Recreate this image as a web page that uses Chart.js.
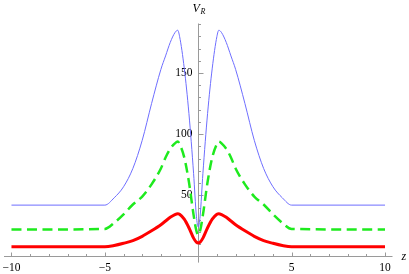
<!DOCTYPE html>
<html>
<head>
<meta charset="utf-8">
<style>
    body { margin: 0; background: #fff; }
    canvas { display: block; }
</style>
</head>
<body>
    <canvas id="chart" width="409" height="274"></canvas>

<script src="https://cdn.jsdelivr.net/npm/chart.js@4"></script>
<script>
    // values, z from -10 to 10
    const zValues = [-10, -5, -4.5, -4, -3.5, -3, -2.5, -2, -1.75, -1.5, -1.25, -1.1, -1, -0.75, -0.5, -0.25, -0.1, 0,
                     0.1, 0.25, 0.5, 0.75, 1, 1.1, 1.25, 1.5, 1.75, 2, 2.5, 3, 3.5, 4, 4.5, 5, 10];
    const blueValues = [42, 42, 48, 57, 72, 95, 125, 153, 164, 175, 183, 185, 180, 154, 117, 68, 33, 24,
                        33, 68, 117, 154, 180, 185, 183, 175, 164, 153, 125, 95, 72, 57, 48, 42, 42];
    const greenValues = [22, 22.5, 27.5, 34.5, 42.5, 49, 59, 72, 81, 88, 92.5, 94, 92, 81, 61, 34, 21, 17.5,
                         21, 34, 61, 81, 92, 94, 92.5, 88, 81, 72, 59, 49, 42.5, 34.5, 27.5, 22.5, 22];
    const redValues = [8, 8, 9, 10.8, 13, 16.5, 21, 26, 29, 32, 34.3, 35, 34.5, 30.5, 23.5, 15, 11.7, 11,
                       11.7, 15, 23.5, 30.5, 34.5, 35, 34.3, 32, 29, 26, 21, 16.5, 13, 10.8, 9, 8, 8];

    const xTickLabels = [-10, -5, 5, 10];
    const yTickLabels = [50, 100, 150];

    const toPoints = (ys) => zValues.map((z, i) => ({x: z, y: ys[i]}));

    const serif = '"Liberation Serif", "DejaVu Serif", serif';

    // axes through the origin, drawn from the chart's own scales
    const axesPlugin = {
        id: 'originAxes',
        beforeDatasetsDraw(chart) {
            const ctx = chart.ctx;
            const xs = chart.scales.x;
            const ys = chart.scales.y;
            const area = chart.chartArea;
            const x0 = Math.round(xs.getPixelForValue(0)) + 0.5;
            const y0 = Math.floor(ys.getPixelForValue(0)) + 0.5;

            ctx.save();
            ctx.strokeStyle = '#9a9a9a';
            ctx.lineWidth = 1;
            ctx.beginPath();
            ctx.moveTo(area.left, y0);
            ctx.lineTo(area.right, y0);
            ctx.moveTo(x0, area.top);
            ctx.lineTo(x0, area.bottom);

            for (let z = -10; z <= 10; z++) {
                if (z === 0) continue;
                const px = Math.round(xs.getPixelForValue(z)) + 0.5;
                const len = z % 5 === 0 ? 4 : 2.5;
                ctx.moveTo(px, y0);
                ctx.lineTo(px, y0 - len);
            }
            for (let v = 10; v <= 190; v += 10) {
                const py = Math.round(ys.getPixelForValue(v)) + 0.5;
                const len = v % 50 === 0 ? 5 : 2.5;
                ctx.moveTo(x0, py);
                ctx.lineTo(x0 + len, py);
            }
            ctx.stroke();

            ctx.fillStyle = '#000';
            ctx.font = '11.5px ' + serif;
            ctx.textBaseline = 'middle';
            ctx.textAlign = 'center';
            xTickLabels.forEach(z => {
                const txt = (z < 0 ? '\u2212' : '') + Math.abs(z);
                ctx.fillText(txt, xs.getPixelForValue(z), y0 + 11);
            });
            ctx.textAlign = 'right';
            yTickLabels.forEach(v => {
                ctx.fillText(String(v), x0 - 6, ys.getPixelForValue(v));
            });

            // axis labels
            ctx.textAlign = 'left';
            ctx.textBaseline = 'alphabetic';
            ctx.font = 'italic 12px ' + serif;
            ctx.fillText('z', area.right + 9, y0 + 3);
            ctx.fillText('V', x0 - 6, 12);
            ctx.font = 'italic 8px ' + serif;
            ctx.fillText('R', x0 + 2, 14);
            ctx.restore();
        }
    };

    const ctx = document.getElementById('chart').getContext('2d');
    const chart = new Chart(ctx, {
        type: 'line',
        data: {
            datasets: [{
                data: toPoints(redValues),
                borderColor: '#ff0000',
                borderWidth: 3
            }, {
                data: toPoints(greenValues),
                borderColor: '#1eea1e',
                borderWidth: 2.5,
                borderDash: [10, 5.5]
            }, {
                data: toPoints(blueValues),
                borderColor: 'rgb(110, 110, 255)',
                borderWidth: 1
            }]
        },
        options: {
            responsive: false,
            animation: false,
            devicePixelRatio: 1,
            layout: {padding: {left: 4, right: 16.5, top: 23.5, bottom: 11.4}},
            plugins: {legend: {display: false}, tooltip: {enabled: false}},
            elements: {
                point: {radius: 0},
                line: {cubicInterpolationMode: 'monotone', fill: false}
            },
            scales: {
                x: {type: 'linear', min: -10.4, max: 10.4, display: false},
                y: {type: 'linear', min: -5, max: 190.5, display: false}
            }
        },
        plugins: [axesPlugin]
    });
</script>
</body>
</html>
